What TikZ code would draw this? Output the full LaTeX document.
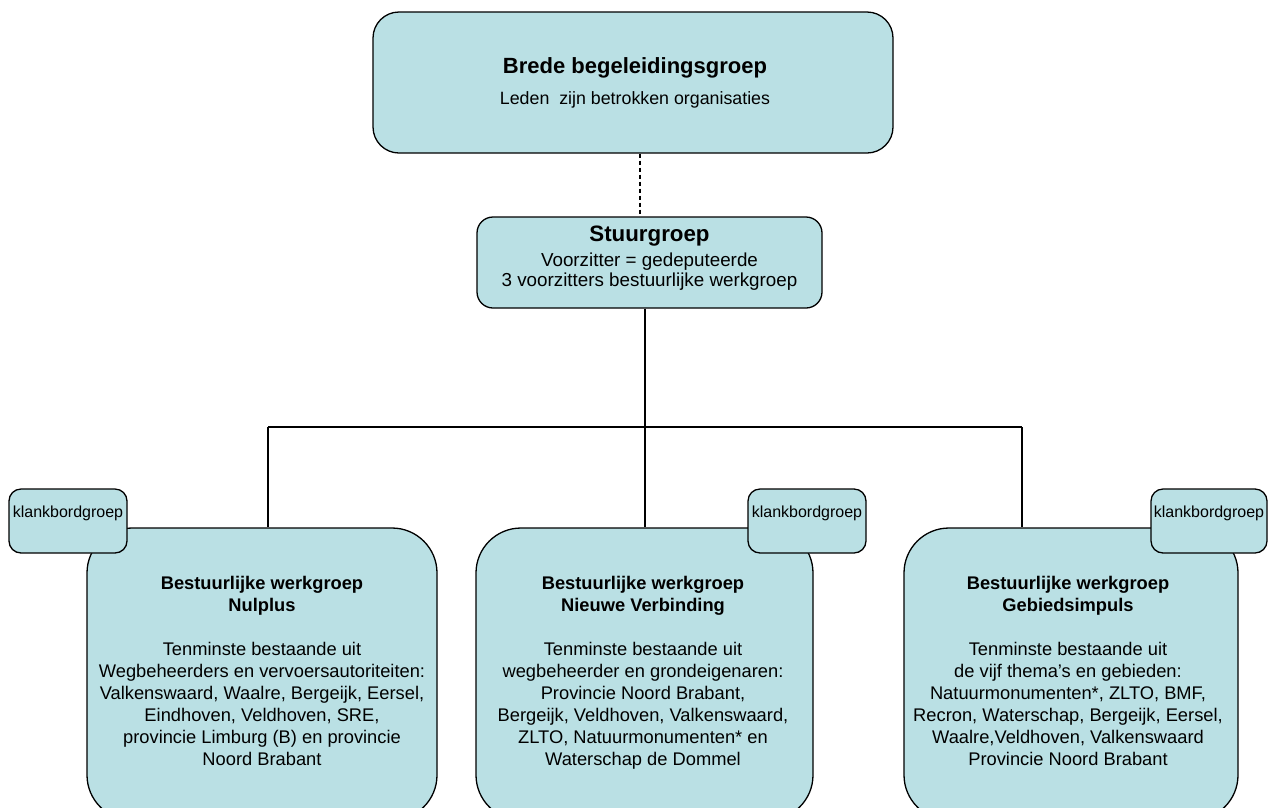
\documentclass[tikz,border=0pt]{standalone}
\usepackage{fontspec}
\setmainfont{Liberation Sans}
\definecolor{boxfill}{RGB}{186,224,228}
\tikzset{
  box/.style={draw=black, line width=1.3pt, fill=boxfill, rectangle, inner sep=0pt},
  conn/.style={draw=black, line width=1.2pt},
  bigtext/.style={align=center, inner sep=0pt, font=\fontsize{18.3}{22}\selectfont},
  kbtext/.style={inner sep=0pt, font=\fontsize{16}{18}\selectfont}
}
\begin{document}
\begin{tikzpicture}[x=1pt,y=-1pt]
\useasboundingbox (0,0) rectangle (1276,807);
\clip (0,0) rectangle (1276,807);
% top box
\node[box, rounded corners=26pt, minimum width=520pt, minimum height=141pt] (top) at (633,82.5) {};
\node[inner sep=0pt, font=\bfseries\fontsize{22}{24}\selectfont] (toptitle) at (635,68) {Brede begeleidingsgroep};
\node[inner sep=0pt, font=\fontsize{17.8}{20}\selectfont] (topsub) at (635,100) {Leden\ \ zijn betrokken organisaties};
% stuurgroep
\node[box, rounded corners=16pt, minimum width=345pt, minimum height=91pt] (stuur) at (649.5,262.5) {};
\node[inner sep=0pt, font=\bfseries\fontsize{22.3}{24}\selectfont] (stuurtitle) at (649.5,236) {Stuurgroep};
\node[align=center, inner sep=0pt, font=\fontsize{18.8}{20}\selectfont] (stuurtext) at (649.5,272) {Voorzitter = gedeputeerde\\3 voorzitters bestuurlijke werkgroep};
% big boxes
\node[box, rounded corners=45pt, minimum width=350pt, minimum height=292pt] (wg1) at (262,674) {};
\node[box, rounded corners=45pt, minimum width=337pt, minimum height=292pt] (wg2) at (644.5,674) {};
\node[box, rounded corners=45pt, minimum width=334pt, minimum height=292pt] (wg3) at (1071,674) {};
\node[bigtext] (wg1t) at (262,671) {\textbf{Bestuurlijke werkgroep}\\\textbf{Nulplus}\\[22pt]Tenminste bestaande uit\\Wegbeheerders en vervoersautoriteiten:\\Valkenswaard, Waalre, Bergeijk, Eersel,\\Eindhoven, Veldhoven, SRE,\\provincie Limburg (B) en provincie\\Noord Brabant};
\node[bigtext] (wg2t) at (643,672.5) {\textbf{Bestuurlijke werkgroep}\\\textbf{Nieuwe Verbinding}\\[22pt]Tenminste bestaande uit\\wegbeheerder en grondeigenaren:\\Provincie Noord Brabant,\\Bergeijk, Veldhoven, Valkenswaard,\\ZLTO, Natuurmonumenten* en\\Waterschap de Dommel};
\node[bigtext] (wg3t) at (1068,671) {\textbf{Bestuurlijke werkgroep}\\\textbf{Gebiedsimpuls}\\[22pt]Tenminste bestaande uit\\de vijf thema’s en gebieden:\\Natuurmonumenten*, ZLTO, BMF,\\Recron, Waterschap, Bergeijk, Eersel,\\Waalre,Veldhoven, Valkenswaard\\Provincie Noord Brabant};
% klankbordgroep boxes
\node[box, rounded corners=12pt, minimum width=118pt, minimum height=64pt] (kb1) at (68,521) {};
\node[box, rounded corners=12pt, minimum width=118pt, minimum height=64pt] (kb2) at (807,521) {};
\node[box, rounded corners=12pt, minimum width=116pt, minimum height=64pt] (kb3) at (1209,521) {};
\node[kbtext] (kb1t) at (kb1.center |- 0,513) {klankbordgroep};
\node[kbtext] (kb2t) at (kb2.center |- 0,513) {klankbordgroep};
\node[kbtext] (kb3t) at (kb3.center |- 0,513) {klankbordgroep};
% connectors
\coordinate (dx) at (640,0);
\draw[conn, dash pattern=on 4pt off 3pt] (top.south -| dx) -- (stuur.north -| dx);
\coordinate (hub) at (645,427);
\coordinate (hl) at (268,427);
\coordinate (hr) at (1022,427);
\draw[conn] (stuur.south -| hub) -- (hub);
\draw[conn] (hl) -- (hr);
\draw[conn] (hl) -- (wg1.north -| hl);
\draw[conn] (hub) -- (wg2.north -| hub);
\draw[conn] (hr) -- (wg3.north -| hr);
\end{tikzpicture}
\end{document}
